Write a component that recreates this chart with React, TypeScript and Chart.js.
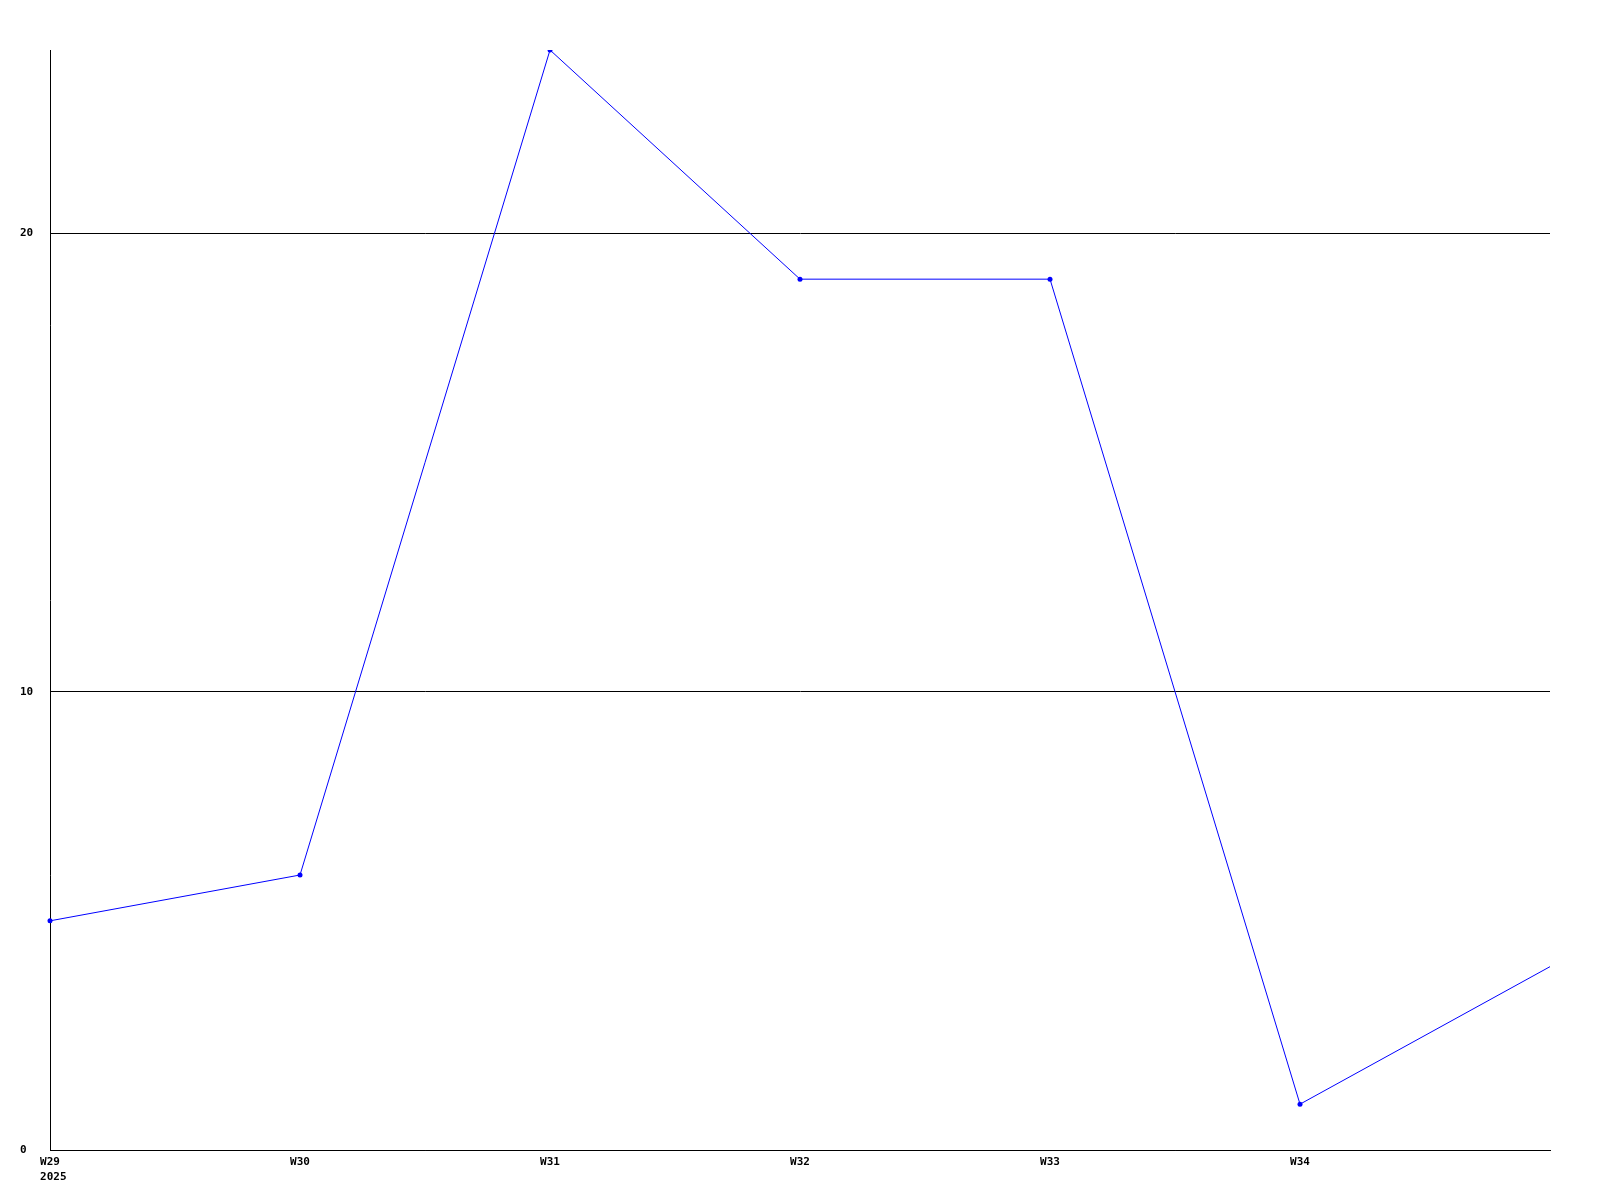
import React, { useEffect, useRef } from "react";
import { Chart, registerables } from "chart.js";

Chart.register(...registerables);

const weeks = ["W29", "W30", "W31", "W32", "W33", "W34", "W35"];
const yearLabel = "2025";
const values = [5, 6, 24, 19, 19, 1, 4];
const yTicks = [0, 10, 20];
const yMax = 24;

const FONT_FAMILY = "'DejaVu Sans Mono', 'Liberation Mono', monospace";
const FONT_SIZE = 11;
const X_PAD = 6;

const yearPlugin = {
  id: "yearLabel",
  afterDraw(chart: any) {
    const xs = chart.scales.x;
    const ctx = chart.ctx;
    ctx.save();
    ctx.font = `bold ${FONT_SIZE}px ${FONT_FAMILY}`;
    ctx.fillStyle = "#000";
    ctx.textAlign = "left";
    ctx.textBaseline = "top";
    const x0 = xs.getPixelForValue(0) - ctx.measureText(weeks[0]).width / 2;
    const y0 = xs.top + X_PAD + FONT_SIZE * 1.2 + 2;
    ctx.fillText(yearLabel, x0, y0);
    ctx.restore();
  },
};

export default function App() {
  const ref = useRef<HTMLCanvasElement | null>(null);
  useEffect(() => {
    document.body.style.margin = "0";
    const font = { family: FONT_FAMILY, size: FONT_SIZE, weight: "bold" as const };
    const chart = new Chart(ref.current as HTMLCanvasElement, {
      type: "line",
      data: {
        labels: weeks,
        datasets: [
          {
            data: values,
            borderColor: "#0000ff",
            backgroundColor: "#0000ff",
            borderWidth: 1,
            pointRadius: values.map((_, i) => (i === values.length - 1 ? 0 : 2.5)),
            pointBorderWidth: 0,
            pointBackgroundColor: "#0000ff",
            tension: 0,
          },
        ],
      },
      plugins: [yearPlugin],
      options: {
        responsive: false,
        animation: false,
        layout: { padding: { left: 20, top: 50, right: 50, bottom: 0 } },
        plugins: { legend: { display: false }, tooltip: { enabled: false } },
        scales: {
          x: {
            type: "category",
            offset: false,
            grid: { display: false, drawTicks: false },
            border: { display: true, color: "#000", width: 1 },
            ticks: {
              color: "#000",
              font,
              padding: X_PAD,
              autoSkip: false,
              maxRotation: 0,
              callback: (_v: any, i: number) => (i === weeks.length - 1 ? "" : weeks[i]),
            },
            afterFit: (s: any) => {
              s.height = 50;
            },
          },
          y: {
            min: 0,
            max: yMax,
            grid: { color: "#000", lineWidth: 1, drawTicks: false },
            border: { display: true, color: "#000", width: 1 },
            ticks: { color: "#000", font, padding: 17, crossAlign: "far" },
            afterBuildTicks: (s: any) => {
              s.ticks = yTicks.map((v) => ({ value: v }));
            },
            afterFit: (s: any) => {
              s.width = 30;
            },
          },
        },
      },
    });
    return () => chart.destroy();
  }, []);
  return (
    <div style={{ position: "absolute", left: 0, top: 0, width: 1600, height: 1200, background: "#fff" }}>
      <canvas ref={ref} width={1600} height={1200} />
    </div>
  );
}
